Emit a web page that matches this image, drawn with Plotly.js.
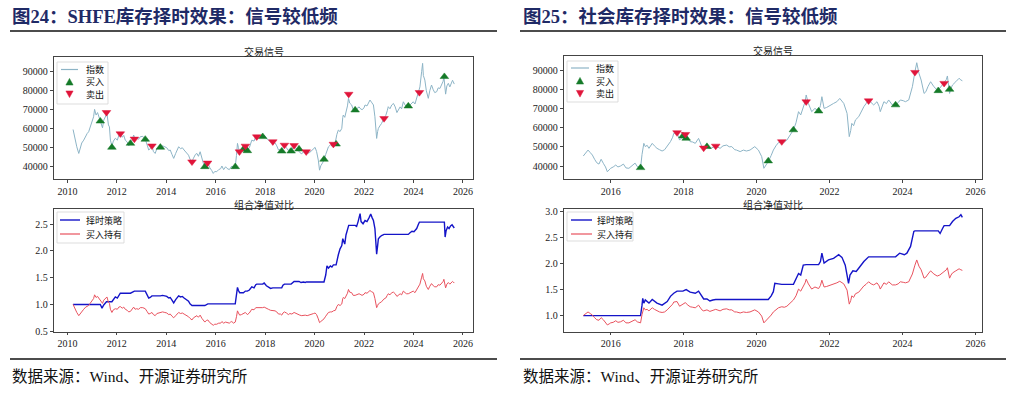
<!DOCTYPE html>
<html><head><meta charset="utf-8">
<script src="https://cdn.plot.ly/plotly-3.0.1.min.js"></script>
<style>html,body{margin:0;padding:0;background:#fff}#c{width:1013px;height:393px}</style>
</head><body><div id="c"></div>
<script>
// ---------- Left panel (SHFE inventory) ----------
const L_dates = [
2010.23,2010.30,2010.38,2010.46,2010.52,2010.58,2010.66,2010.74,2010.80,2010.86,
2010.92,2010.98,2011.06,2011.10,2011.16,2011.22,2011.30,2011.36,2011.42,2011.47,
2011.53,2011.60,2011.66,2011.70,2011.74,2011.80,2011.86,2011.94,2012.02,2012.08,
2012.14,2012.22,2012.28,2012.34,2012.42,2012.48,2012.55,2012.62,2012.68,2012.74,
2012.80,2012.88,2012.95,2013.05,2013.15,2013.22,2013.29,2013.35,2013.42,2013.48,
2013.55,2013.62,2013.70,2013.76,2013.85,2013.94,2014.02,2014.10,2014.16,2014.23,
2014.30,2014.38,2014.45,2014.50,2014.58,2014.65,2014.72,2014.80,2014.90,2014.96,
2015.04,2015.10,2015.18,2015.24,2015.30,2015.37,2015.44,2015.50,2015.56,2015.62,
2015.68,2015.76,2015.84,2015.90,2015.96,2016.04,2016.12,2016.20,2016.25,2016.32,
2016.40,2016.46,2016.55,2016.60,2016.65,2016.72,2016.79,2016.84,2016.88,2016.92,
2016.97,2017.04,2017.12,2017.20,2017.28,2017.36,2017.46,2017.55,2017.62,2017.70,
2017.80,2017.90,2017.96,2018.05,2018.13,2018.22,2018.31,2018.40,2018.47,2018.54,
2018.62,2018.67,2018.72,2018.78,2018.86,2018.94,2019.00,2019.08,2019.17,2019.25,
2019.32,2019.40,2019.48,2019.55,2019.62,2019.70,2019.80,2019.89,2019.96,2020.02,
2020.08,2020.15,2020.20,2020.25,2020.32,2020.38,2020.45,2020.52,2020.56,2020.64,
2020.70,2020.76,2020.84,2020.90,2020.96,2021.03,2021.10,2021.14,2021.16,2021.22,
2021.27,2021.33,2021.37,2021.42,2021.50,2021.56,2021.64,2021.72,2021.80,2021.84,
2021.92,2022.00,2022.04,2022.12,2022.18,2022.24,2022.30,2022.38,2022.44,2022.48,
2022.51,2022.55,2022.58,2022.64,2022.71,2022.80,2022.88,2022.94,2022.98,2023.05,
2023.12,2023.19,2023.26,2023.33,2023.39,2023.46,2023.52,2023.59,2023.66,2023.72,
2023.79,2023.86,2023.92,2023.99,2024.06,2024.13,2024.20,2024.26,2024.33,2024.37,
2024.40,2024.46,2024.52,2024.56,2024.60,2024.66,2024.73,2024.80,2024.86,2024.94,
2025.00,2025.07,2025.14,2025.20,2025.23,2025.27,2025.30,2025.35,2025.41,2025.47,
2025.53,2025.58,2025.61,2025.65];
const L_index = [
59600,55000,50500,47000,49500,52500,54000,56500,57500,58400,
61000,63500,66300,70200,67200,68500,64900,63000,60500,64500,
66000,68000,62000,61000,54000,50900,53500,55000,54000,56500,
57500,55500,56500,54000,53000,51000,52000,54000,56700,54500,
55000,54500,55800,56000,54600,52000,48800,49500,50900,48000,
47000,49500,50000,50200,51000,50500,50000,48500,48800,46500,
44400,47000,49000,50500,49500,50000,48800,47500,46100,44000,
42600,44500,46500,47000,45500,47900,44000,41800,40000,41500,
42100,39500,38000,36500,37500,37400,38500,39000,40400,38500,
40000,39100,38500,39800,40400,39000,40000,46000,52300,50000,
47900,48500,49200,50500,48500,50000,54000,53500,55800,56000,
55500,55800,56700,55000,54000,53000,53200,52500,51000,48800,
49000,47900,50000,51400,50000,48500,49600,49000,50900,49500,
49000,47500,46800,47900,47500,47000,47500,48800,49500,50200,
48000,43500,38200,40500,42000,43500,46500,49500,50500,51500,
51000,52300,53000,57000,59300,58500,60200,66000,67200,66000,
68500,72000,76000,73500,72500,70000,69800,70500,71500,70700,
70000,71000,72500,72000,73500,75100,74000,72500,66300,60000,
54900,58500,60200,61500,62800,65400,67000,69500,71600,70500,
72500,73300,71500,68500,69800,71500,70500,74200,72500,71500,
71600,72500,73500,74200,73000,76000,78600,82000,90000,94400,
88000,85600,80000,77500,76000,80000,83000,80500,79000,79500,
81500,81200,83000,85000,87400,82000,78200,82500,83900,82000,
84500,85500,84700,83500];
const L_hold = [
1.00,0.92,0.85,0.79,0.83,0.88,0.91,0.95,0.96,0.98,
1.02,1.07,1.11,1.18,1.13,1.15,1.09,1.06,1.02,1.08,
1.11,1.14,1.04,1.02,0.91,0.85,0.90,0.92,0.91,0.95,
0.96,0.93,0.95,0.91,0.89,0.86,0.87,0.91,0.95,0.91,
0.92,0.91,0.94,0.94,0.92,0.87,0.82,0.83,0.85,0.81,
0.79,0.83,0.84,0.84,0.86,0.85,0.84,0.81,0.82,0.78,
0.75,0.79,0.82,0.85,0.83,0.84,0.82,0.80,0.77,0.74,
0.71,0.75,0.78,0.79,0.76,0.80,0.74,0.70,0.67,0.70,
0.71,0.66,0.64,0.61,0.63,0.63,0.65,0.65,0.68,0.65,
0.67,0.66,0.65,0.67,0.68,0.65,0.67,0.77,0.88,0.84,
0.80,0.81,0.83,0.85,0.81,0.84,0.91,0.90,0.94,0.94,
0.93,0.94,0.95,0.92,0.91,0.89,0.89,0.88,0.86,0.82,
0.82,0.80,0.84,0.86,0.84,0.81,0.83,0.82,0.85,0.83,
0.82,0.80,0.79,0.80,0.80,0.79,0.80,0.82,0.83,0.84,
0.81,0.73,0.66,0.68,0.70,0.73,0.78,0.83,0.85,0.86,
0.86,0.88,0.89,0.96,1.00,0.98,1.01,1.11,1.13,1.11,
1.15,1.21,1.28,1.23,1.22,1.17,1.17,1.18,1.20,1.19,
1.17,1.19,1.22,1.21,1.23,1.26,1.24,1.22,1.11,1.01,
0.94,0.98,1.01,1.03,1.05,1.10,1.12,1.17,1.20,1.18,
1.22,1.23,1.20,1.15,1.17,1.20,1.18,1.25,1.22,1.20,
1.20,1.22,1.23,1.25,1.22,1.28,1.32,1.38,1.51,1.58,
1.48,1.44,1.34,1.30,1.28,1.34,1.39,1.35,1.33,1.33,
1.37,1.36,1.39,1.43,1.47,1.38,1.31,1.38,1.41,1.38,
1.42,1.43,1.42,1.40];
const L_stratDates = [
2010.23,2011.33,2011.36,2011.40,2011.47,2011.53,2011.58,2011.80,2011.86,2011.94,
2012.02,2012.08,2012.14,2012.55,2012.62,2012.71,2013.15,2013.22,2013.29,2013.35,
2013.42,2013.76,2013.85,2013.94,2014.02,2014.10,2014.16,2014.23,2014.30,2014.38,
2014.45,2014.50,2014.58,2014.65,2014.72,2014.80,2014.90,2014.96,2015.04,2015.56,
2015.62,2015.68,2016.79,2016.84,2016.88,2016.92,2016.97,2017.12,2017.20,2017.28,
2017.36,2017.46,2017.55,2017.62,2017.66,2017.90,2017.96,2018.05,2018.13,2018.22,
2018.31,2018.67,2018.72,2018.78,2019.05,2019.12,2019.17,2019.37,2019.45,2019.55,
2019.62,2019.66,2020.38,2020.45,2020.50,2020.56,2020.64,2020.70,2020.76,2020.87,
2020.92,2020.96,2021.03,2021.10,2021.14,2021.18,2021.22,2021.27,2021.33,2021.38,
2021.64,2021.70,2021.76,2021.84,2021.88,2021.96,2022.04,2022.12,2022.20,2022.27,
2022.33,2022.38,2022.44,2022.48,2022.51,2022.55,2022.58,2022.64,2022.71,2022.81,
2023.79,2023.86,2023.94,2024.02,2024.10,2024.13,2024.20,2024.24,2025.25,2025.28,
2025.32,2025.38,2025.44,2025.50,2025.56,2025.61,2025.65];
const L_strat = [
1.00,1.00,0.97,0.93,0.99,1.02,1.05,1.05,1.10,1.14,
1.12,1.18,1.21,1.21,1.23,1.25,1.25,1.19,1.12,1.13,
1.16,1.16,1.17,1.16,1.15,1.12,1.13,1.08,1.03,1.09,
1.13,1.16,1.14,1.15,1.12,1.09,1.06,1.01,0.98,0.98,
1.00,1.01,1.01,1.18,1.32,1.26,1.22,1.22,1.25,1.25,
1.27,1.33,1.31,1.37,1.38,1.38,1.40,1.35,1.33,1.30,
1.31,1.31,1.36,1.38,1.38,1.40,1.43,1.43,1.41,1.42,
1.41,1.42,1.42,1.55,1.72,1.68,1.72,1.70,1.74,1.74,
1.88,1.93,2.04,2.10,2.23,2.18,2.13,2.30,2.42,2.48,
2.48,2.46,2.55,2.70,2.55,2.51,2.57,2.55,2.62,2.69,
2.62,2.57,2.42,2.20,1.94,2.10,2.23,2.26,2.29,2.31,
2.31,2.34,2.37,2.36,2.40,2.42,2.50,2.54,2.54,2.26,
2.38,2.45,2.42,2.47,2.49,2.45,2.43];
const L_buyDates = [2011.33,2011.80,2012.55,2013.15,2013.76,2015.56,2016.79,2017.12,2017.28,2017.90,2018.67,2019.05,2019.37,2020.38,2020.87,2021.64,2023.79,2025.25];
const L_buyPrice = [64000,50200,52300,54400,50200,40000,40000,49200,48400,55800,48200,48200,49300,43900,51900,69800,71900,87400];
const L_sellDates = [2011.58,2012.14,2012.71,2013.42,2015.04,2015.67,2016.96,2017.20,2017.66,2018.31,2018.78,2019.17,2019.66,2020.76,2021.38,2022.81,2024.24];
const L_sellPrice = [68600,57400,54600,51000,42600,42000,47900,50900,55800,53200,51400,51200,47900,51900,78200,65400,79100];

// ---------- Right panel (social inventory) ----------
const R_dates = [
2015.25,2015.30,2015.38,2015.44,2015.50,2015.56,2015.62,2015.68,2015.74,2015.80,
2015.86,2015.91,2015.96,2016.00,2016.07,2016.14,2016.20,2016.27,2016.35,2016.42,
2016.50,2016.56,2016.60,2016.67,2016.73,2016.82,2016.86,2016.91,2016.95,2017.00,
2017.05,2017.14,2017.20,2017.27,2017.34,2017.41,2017.48,2017.55,2017.64,2017.70,
2017.73,2017.82,2017.89,2017.98,2018.05,2018.10,2018.18,2018.25,2018.32,2018.41,
2018.46,2018.50,2018.55,2018.64,2018.72,2018.80,2018.88,2019.00,2019.08,2019.18,
2019.25,2019.32,2019.40,2019.45,2019.55,2019.64,2019.72,2019.82,2019.90,2019.95,
2020.05,2020.14,2020.20,2020.26,2020.32,2020.40,2020.46,2020.53,2020.60,2020.69,
2020.76,2020.83,2020.90,2020.96,2021.01,2021.08,2021.15,2021.21,2021.28,2021.33,
2021.36,2021.42,2021.51,2021.60,2021.70,2021.75,2021.79,2021.85,2021.92,2021.97,
2022.04,2022.11,2022.20,2022.28,2022.34,2022.39,2022.48,2022.54,2022.58,2022.61,
2022.66,2022.71,2022.80,2022.87,2022.94,2023.00,2023.07,2023.14,2023.21,2023.30,
2023.36,2023.39,2023.44,2023.49,2023.56,2023.62,2023.72,2023.81,2023.88,2023.94,
2024.02,2024.08,2024.17,2024.22,2024.27,2024.34,2024.39,2024.45,2024.51,2024.59,
2024.64,2024.70,2024.77,2024.86,2024.95,2025.02,2025.09,2025.14,2025.20,2025.23,
2025.27,2025.29,2025.33,2025.37,2025.46,2025.55,2025.60,2025.64];
const R_index = [
45200,46500,48300,47000,45700,43500,41700,41000,43500,41400,
39500,37000,38000,38800,39500,40500,39500,40000,41000,39000,
38800,39800,40500,41500,39700,39100,46000,51800,50100,50800,
49200,51800,50500,49200,48500,47800,48500,50100,52700,55000,
57000,57400,53500,55300,56500,54500,52700,52500,51800,54400,
52000,50100,49200,50100,49000,49500,50400,49200,50500,50900,
50000,50100,48500,48300,47500,48300,47800,48300,49500,50100,
48300,44900,38800,40500,42300,45500,48300,50500,52200,52700,
52500,53500,55500,57900,58800,62500,68300,66600,70000,73500,
77000,72600,68300,70000,68600,71500,76100,70000,70500,70900,
71800,72600,73500,75200,74000,72600,67400,55300,58500,62200,
61000,64000,65700,68500,70900,72500,74400,73000,71800,73500,
71000,68300,71000,73500,72500,74400,71800,71800,73000,74400,
74000,73500,74400,78000,81300,89100,93800,88300,84800,77800,
78700,81500,83900,81300,79600,80500,82200,83100,85000,86900,
80000,77800,80500,82200,83900,85700,84800,84400];
const R_hold = [
1.00,1.03,1.07,1.04,1.01,0.96,0.92,0.91,0.96,0.92,
0.87,0.82,0.84,0.86,0.87,0.90,0.87,0.88,0.91,0.86,
0.86,0.88,0.90,0.92,0.88,0.86,1.02,1.15,1.11,1.12,
1.09,1.15,1.12,1.09,1.07,1.06,1.07,1.11,1.17,1.22,
1.26,1.27,1.18,1.22,1.25,1.21,1.17,1.16,1.15,1.20,
1.15,1.11,1.09,1.11,1.08,1.10,1.12,1.09,1.12,1.13,
1.11,1.11,1.07,1.07,1.05,1.07,1.06,1.07,1.10,1.11,
1.07,0.99,0.86,0.90,0.94,1.01,1.07,1.12,1.15,1.17,
1.16,1.18,1.23,1.28,1.30,1.38,1.51,1.47,1.55,1.63,
1.70,1.61,1.51,1.55,1.52,1.58,1.68,1.55,1.56,1.57,
1.59,1.61,1.63,1.66,1.64,1.61,1.49,1.22,1.29,1.38,
1.35,1.42,1.45,1.52,1.57,1.60,1.65,1.61,1.59,1.63,
1.57,1.51,1.57,1.63,1.60,1.65,1.59,1.59,1.61,1.65,
1.64,1.63,1.65,1.73,1.80,1.97,2.07,1.95,1.88,1.72,
1.74,1.80,1.86,1.80,1.76,1.78,1.82,1.84,1.88,1.92,
1.77,1.72,1.78,1.82,1.86,1.90,1.88,1.87];
const R_stratDates = [
2015.25,2016.82,2016.86,2016.88,2016.91,2016.95,2017.05,2017.14,2017.27,2017.41,
2017.55,2017.64,2017.73,2017.82,2017.98,2018.05,2018.07,2018.18,2018.32,2018.41,
2018.50,2018.55,2018.64,2018.72,2018.80,2018.88,2020.32,2020.40,2020.46,2020.50,
2020.60,2020.69,2021.01,2021.08,2021.15,2021.21,2021.28,2021.36,2021.70,2021.75,
2021.79,2021.85,2021.97,2022.11,2022.25,2022.34,2022.43,2022.52,2022.56,2022.64,
2022.73,2022.83,2022.94,2023.07,2023.81,2023.92,2024.05,2024.12,2024.22,2024.31,
2024.34,2024.98,2025.03,2025.10,2025.14,2025.29,2025.37,2025.46,2025.55,2025.60,
2025.64];
const R_strat = [
1.00,1.00,1.20,1.33,1.24,1.30,1.24,1.31,1.24,1.20,
1.27,1.37,1.43,1.47,1.47,1.50,1.50,1.45,1.43,1.47,
1.37,1.32,1.32,1.28,1.30,1.31,1.31,1.38,1.46,1.62,
1.61,1.60,1.60,1.70,1.81,1.78,1.97,1.98,1.98,2.04,
2.20,2.01,2.07,2.10,2.17,2.12,1.97,1.62,1.78,1.86,
1.85,1.94,2.04,2.13,2.13,2.20,2.17,2.20,2.33,2.62,
2.63,2.63,2.58,2.68,2.73,2.73,2.81,2.87,2.90,2.94,
2.89];
const R_buyDates = [2016.82,2017.98,2018.07,2018.64,2020.32,2021.01,2021.70,2023.81,2024.98,2025.29];
const R_buyPrice = [39100,55600,54400,50100,42600,58800,68600,71800,79200,79900];
const R_sellDates = [2017.82,2018.05,2018.55,2018.88,2020.69,2021.36,2023.07,2024.34,2025.14];
const R_sellPrice = [57400,56500,49400,50400,52700,73500,74000,88800,83100];

const L_years = [2010,2012,2014,2016,2018,2020,2022,2024,2026];
const R_years = [2016,2018,2020,2022,2024,2026];
const priceTicks = [40000,50000,60000,70000,80000,90000];

// ---------- styling helpers ----------
const W = 1013, H = 393;
const px = x => x / W, py = y => 1 - y / H;
const IDX_C = '#8db4c6', BUY_C = '#157a28', SELL_C = '#e0153a', STRAT_C = '#1414c8', HOLD_C = '#e8525e';
const numFont = {family: 'Liberation Serif, Times New Roman, serif', size: 10, color: '#222'};
const cjk = 'Noto Sans CJK SC';

function axisX(dom, rng, ticks, anchor) {
  return {domain: dom, range: rng, anchor: anchor, tickvals: ticks, ticktext: ticks.map(String),
    showline: true, mirror: true, linecolor: '#444', linewidth: 1, ticks: 'outside', ticklen: 2.5,
    tickcolor: '#444', showgrid: false, zeroline: false, tickfont: numFont, fixedrange: true};
}
function axisY(dom, rng, ticks, anchor, fmt) {
  return {domain: dom, range: rng, anchor: anchor, tickvals: ticks, ticktext: ticks.map(fmt),
    showline: true, mirror: true, linecolor: '#444', linewidth: 1, ticks: 'outside', ticklen: 3.5,
    tickcolor: '#444', showgrid: false, zeroline: false, tickfont: numFont, fixedrange: true};
}
const trLine = (x, y, name, color, width, xa, ya) => ({type: 'scatter', mode: 'lines', x, y, name,
  line: {color, width}, xaxis: xa, yaxis: ya, showlegend: false, hoverinfo: 'skip'});
const trMark = (x, y, name, color, sym, xa, ya) => ({type: 'scatter', mode: 'markers', x, y, name,
  marker: {color, symbol: sym, size: 7.5, line: {color: color, width: 0.5}}, xaxis: xa, yaxis: ya, showlegend: false, hoverinfo: 'skip'});

const data = [
  trLine(L_dates, L_index, '指数', IDX_C, 1, 'x', 'y'),
  trMark(L_buyDates, L_buyPrice, '买入', BUY_C, 'triangle-up', 'x', 'y'),
  trMark(L_sellDates, L_sellPrice, '卖出', SELL_C, 'triangle-down', 'x', 'y'),
  trLine(L_stratDates, L_strat, '择时策略', STRAT_C, 1.4, 'x2', 'y2'),
  trLine(L_dates, L_hold, '买入持有', HOLD_C, 1, 'x2', 'y2'),
  trLine(R_dates, R_index, '指数', IDX_C, 1, 'x3', 'y3'),
  trMark(R_buyDates, R_buyPrice, '买入', BUY_C, 'triangle-up', 'x3', 'y3'),
  trMark(R_sellDates, R_sellPrice, '卖出', SELL_C, 'triangle-down', 'x3', 'y3'),
  trLine(R_stratDates, R_strat, '择时策略', STRAT_C, 1.4, 'x4', 'y4'),
  trLine(R_dates, R_hold, '买入持有', HOLD_C, 1, 'x4', 'y4')
];

const LX = [px(54.3), px(473.3)], RX = [px(564.3), px(981.7)];
const TOPY_L = [py(179.3), py(56.7)], BOTY_L = [py(331.7), py(209.3)];
const TOPY_R = [py(179), py(56)], BOTY_R = [py(331.7), py(209)];

const ann = (x, y, text, size, opts) => Object.assign({xref: 'paper', yref: 'paper', x: px(x), y: py(y),
  text, showarrow: false, font: {family: cjk, size, color: '#222'}}, opts || {});
const headFont = {family: 'Liberation Serif, ' + cjk, size: 18.5, color: '#1f2a66', weight: 'bold'};
const footFont = {family: 'Liberation Serif, ' + cjk, size: 15.5, color: '#111'};

// ---------- compact matplotlib-style legends (drawn from shapes + text) ----------
const shapes = [], annotations = [];
const pline = (x0, y0, x1, y1, color, width) => shapes.push({type: 'line', xref: 'paper', yref: 'paper',
  x0: px(x0), x1: px(x1), y0: py(y0), y1: py(y1), line: {color, width}});
function tri(cx, cy, up, color) {
  const s = 3.6;
  const pts = up ? [[cx - s, cy + s * 0.85], [cx + s, cy + s * 0.85], [cx, cy - s]]
                 : [[cx - s, cy - s * 0.85], [cx + s, cy - s * 0.85], [cx, cy + s]];
  const path = 'M' + pts.map(p => px(p[0]) + ',' + py(p[1])).join(' L') + ' Z';
  shapes.push({type: 'path', xref: 'paper', yref: 'paper', path, fillcolor: color, line: {color, width: 0.5}});
}
function legendBox(x0, y0, x1, y1) {
  shapes.push({type: 'rect', xref: 'paper', yref: 'paper', x0: px(x0), x1: px(x1), y0: py(y1), y1: py(y0),
    fillcolor: 'rgba(255,255,255,0.9)', line: {color: '#d4d4d4', width: 0.8}});
}
const legText = (x, y, t) => annotations.push(ann(x, y, t, 9, {xanchor: 'left', yanchor: 'middle', font: {family: cjk, size: 9, color: '#111'}}));

function signalLegend(x0, y0, x1, y1, rows, lx0, lx1, tx) {
  legendBox(x0, y0, x1, y1);
  pline(lx0, rows[0], lx1, rows[0], IDX_C, 1.2);
  tri((lx0 + lx1) / 2, rows[1], true, BUY_C);
  tri((lx0 + lx1) / 2, rows[2], false, SELL_C);
  legText(tx, rows[0], '指数'); legText(tx, rows[1], '买入'); legText(tx, rows[2], '卖出');
}
function navLegend(x0, y0, x1, y1, rows, lx0, lx1, tx) {
  legendBox(x0, y0, x1, y1);
  pline(lx0, rows[0], lx1, rows[0], STRAT_C, 1.4);
  pline(lx0, rows[1], lx1, rows[1], HOLD_C, 1.2);
  legText(tx, rows[0], '择时策略'); legText(tx, rows[1], '买入持有');
}
signalLegend(57, 62, 108, 104, [69.5, 82, 94], 61, 78, 84);
signalLegend(567, 61, 618, 102, [68, 81, 93.5], 571, 589, 594);
navLegend(57, 212, 124, 243, [220, 234], 60, 80, 84);
navLegend(567, 212, 633, 241, [220, 234], 571, 592, 595);

// header / footer rules
pline(10, 31, 497, 31, '#111', 1.3);
pline(520, 31, 1006, 31, '#111', 1.3);
pline(10, 359, 497, 359, '#111', 1.3);
pline(520, 359, 1006, 359, '#111', 1.3);

const subTitle = (x, y, t) => ann(x, y, t, 10, {xanchor: 'center', yanchor: 'middle', borderpad: 0});
annotations.push(
  ann(10, 16, '图24：SHFE库存择时效果：信号较低频', 18.5, {xanchor: 'left', yanchor: 'middle', font: headFont}),
  ann(521, 16, '图25：社会库存择时效果：信号较低频', 18.5, {xanchor: 'left', yanchor: 'middle', font: headFont}),
  subTitle(263.8, 51, '交易信号'),
  subTitle(263.8, 204, '组合净值对比'),
  subTitle(773, 50.5, '交易信号'),
  subTitle(773, 204, '组合净值对比'),
  ann(10, 376, '数据来源：Wind、开源证券研究所', 15.5, {xanchor: 'left', yanchor: 'middle', font: footFont}),
  ann(521, 376, '数据来源：Wind、开源证券研究所', 15.5, {xanchor: 'left', yanchor: 'middle', font: footFont})
);

const layout = {
  width: W, height: H, margin: {l: 0, r: 0, t: 0, b: 0}, paper_bgcolor: '#fff', plot_bgcolor: '#fff',
  showlegend: false,
  xaxis: axisX(LX, [2009.47, 2026.42], L_years, 'y'),
  yaxis: axisY(TOPY_L, [33400, 97900], priceTicks, 'x', String),
  xaxis2: axisX(LX, [2009.47, 2026.42], L_years, 'y2'),
  yaxis2: axisY(BOTY_L, [0.49, 2.78], [0.5, 1.0, 1.5, 2.0, 2.5], 'x2', v => v.toFixed(1)),
  xaxis3: axisX(RX, [2014.73, 2026.17], R_years, 'y3'),
  yaxis3: axisY(TOPY_R, [33230, 97300], priceTicks, 'x3', String),
  xaxis4: axisX(RX, [2014.73, 2026.17], R_years, 'y4'),
  yaxis4: axisY(BOTY_R, [0.69, 3.05], [1.0, 1.5, 2.0, 2.5, 3.0], 'x4', v => v.toFixed(1)),
  annotations, shapes
};

Plotly.newPlot('c', data, layout, {displayModeBar: false, staticPlot: true});
</script>
</body></html>
